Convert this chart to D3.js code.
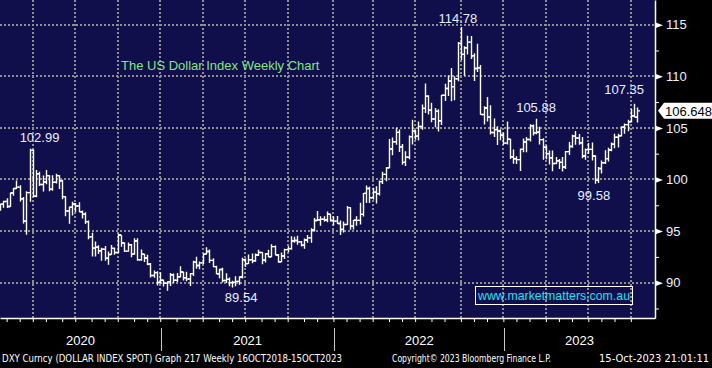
<!DOCTYPE html>
<html><head><meta charset="utf-8">
<script src="https://cdn.jsdelivr.net/npm/d3@7"></script>
<style>html,body{margin:0;padding:0;background:#000;} svg{display:block;}</style>
</head><body><svg id="c" width="712" height="368"></svg>
<script>
// ---- DATA: DXY weekly bars, first bar = week ending 2020-01-03 ----
const startWeek = "2020-01-03";
const opens = [96.39,96.84,97.36,97.61,97.87,97.39,98.69,99.13,99.26,98.13,95.95,98.73,102.82,98.37,100.55,99.51,99.76,100.37,99.07,99.73,100.37,99.88,98.34,96.94,97.32,97.63,97.43,96.87,96.64,95.92,94.44,93.35,93.44,93.09,93.24,92.37,92.73,93.33,92.93,94.60,93.84,93.06,93.68,92.77,94.04,92.23,92.76,92.39,91.79,90.70,90.98,90.02,90.24,
89.94,90.10,90.77,90.24,90.58,91.04,90.48,90.36,90.88,91.98,91.67,91.92,92.77,93.02,92.16,91.56,90.86,91.28,90.22,90.32,90.01,90.03,90.13,90.55,92.23,91.85,92.23,92.12,92.68,92.92,92.17,92.80,92.52,93.50,92.69,92.03,92.58,93.20,93.30,94.04,94.09,93.96,93.64,94.14,94.34,95.12,96.03,96.09,96.15,96.08,96.64,96.02,
95.97,95.74,95.17,95.64,97.27,95.48,96.05,96.04,96.62,98.65,99.12,98.23,98.78,98.63,99.79,100.50,101.14,102.96,103.66,104.56,103.16,101.66,102.16,104.15,104.69,104.20,105.14,106.89,108.07,106.72,105.86,106.61,105.69,108.16,108.82,109.54,109.00,109.75,113.19,112.12,112.75,113.31,111.98,110.76,110.81,106.29,106.92,106.04,104.55,104.83,104.70,104.31,
103.52,103.90,102.20,102.01,101.92,102.92,103.63,103.87,105.21,104.52,104.58,103.86,103.12,102.51,102.10,101.55,101.82,101.66,101.21,102.70,103.20,104.20,104.02,103.55,102.27,102.89,102.92,102.27,99.91,101.07,101.62,102.02,102.85,103.43,104.09,104.24,105.07,105.32,105.58,106.17,106.04];
const highs = [96.98,97.45,97.68,97.94,98.19,98.75,99.18,99.91,99.43,98.31,98.86,102.99,102.90,100.93,100.74,100.38,100.93,100.42,100.40,100.56,100.40,99.98,98.37,97.39,97.84,97.71,97.80,97.00,96.83,96.02,94.85,93.99,93.64,93.38,93.55,93.03,93.66,93.40,94.74,94.60,93.91,93.90,93.74,94.31,94.30,93.21,92.80,92.70,91.92,91.19,91.10,91.02,90.30,
90.12,90.95,90.90,90.95,91.60,91.05,91.05,90.94,92.13,92.51,92.05,92.84,93.44,93.21,92.38,91.65,91.36,91.44,90.91,90.51,90.18,90.63,90.62,92.41,92.35,92.74,92.84,92.83,93.19,92.94,92.88,93.20,93.73,93.60,92.77,92.93,93.29,93.52,94.50,94.45,94.56,94.04,94.29,94.63,95.27,96.26,96.94,96.45,96.45,96.91,96.68,96.44,
96.46,96.02,95.93,97.44,97.30,96.07,96.43,97.74,98.69,99.42,99.30,99.21,99.35,99.90,100.76,101.18,103.93,104.07,105.01,104.85,103.43,102.74,104.25,105.79,104.80,105.63,107.27,109.29,108.16,107.43,106.93,106.80,108.19,109.27,110.08,110.79,110.00,113.33,114.78,112.90,113.92,113.89,112.22,113.15,111.10,107.10,107.99,107.20,105.91,105.15,104.87,104.56,
105.63,103.95,102.90,102.26,103.01,103.96,104.12,105.36,105.32,105.88,105.11,103.99,103.30,102.81,102.80,102.17,101.99,102.19,102.75,103.62,104.34,104.70,104.40,104.12,103.00,103.54,103.58,102.34,101.20,101.84,102.84,103.07,103.59,104.44,104.43,105.16,105.43,105.78,106.84,107.35,106.98];
const lows = [96.36,96.64,96.96,97.26,97.24,97.36,98.42,99.07,97.87,95.73,94.65,97.84,98.27,98.27,99.37,98.83,99.54,98.86,98.91,99.60,99.09,98.09,96.44,95.71,96.50,96.85,96.83,96.23,95.69,94.20,92.55,92.53,92.79,92.13,92.13,91.75,92.70,92.70,92.87,93.49,92.98,93.00,92.47,92.70,92.13,92.13,92.01,91.69,90.50,90.47,89.72,89.90,89.62,
89.21,89.69,89.97,90.06,90.51,90.21,90.13,89.68,90.66,91.36,91.30,91.80,92.73,91.92,91.49,90.81,90.42,90.03,89.96,89.65,89.53,89.66,89.81,90.41,91.51,91.82,91.88,92.02,92.58,91.78,91.95,92.46,92.47,92.67,91.94,91.98,92.29,92.98,93.19,93.87,93.68,93.50,93.28,93.87,93.87,94.95,95.99,95.52,95.91,95.85,95.94,95.53,
95.70,94.63,94.87,95.58,95.14,95.16,95.51,95.65,96.42,97.71,97.71,98.06,97.68,98.44,99.57,99.82,101.09,102.35,103.36,102.66,101.43,101.30,101.96,103.40,103.86,103.78,104.83,106.44,106.29,105.54,105.05,104.64,105.29,107.60,108.10,107.59,107.68,109.52,111.57,110.05,112.12,111.67,109.54,110.42,106.28,105.32,105.62,104.37,104.12,103.33,103.80,103.37,
103.39,101.99,101.53,101.50,100.82,102.64,102.64,103.68,104.25,104.38,103.40,101.92,101.95,101.45,100.79,101.51,101.01,100.78,101.01,102.38,103.08,103.37,103.36,102.05,101.92,102.47,101.84,99.58,99.65,100.57,101.50,101.74,102.74,103.03,103.10,104.17,104.43,104.67,105.51,106.03,105.53];
const closes = [96.84,97.36,97.61,97.87,97.39,98.69,99.13,99.26,98.13,95.95,98.73,102.82,98.37,100.55,99.51,99.76,100.37,99.07,99.73,100.37,99.88,98.34,96.94,97.32,97.63,97.43,96.87,96.64,95.92,94.44,93.35,93.44,93.09,93.24,92.37,92.73,93.33,92.93,94.64,93.84,93.06,93.68,92.77,94.04,92.23,92.76,92.39,91.79,90.70,90.98,90.02,90.24,89.94,
90.10,90.77,90.24,90.58,91.04,90.48,90.36,90.88,91.98,91.67,91.92,92.77,93.02,92.16,91.56,90.86,91.28,90.22,90.32,90.01,90.03,90.13,90.55,92.23,91.85,92.23,92.12,92.68,92.92,92.17,92.80,92.52,93.50,92.69,92.03,92.58,93.20,93.30,94.04,94.09,93.96,93.64,94.14,94.34,95.12,96.03,96.09,96.15,96.08,96.64,96.02,95.97,
95.74,95.17,95.64,97.27,95.48,96.05,96.04,96.62,98.65,99.12,98.23,98.78,98.63,99.79,100.50,101.14,102.96,103.66,104.56,103.16,101.66,102.16,104.15,104.69,104.20,105.14,106.89,108.07,106.72,105.86,106.61,105.69,108.16,108.82,109.54,109.00,109.75,113.19,112.12,112.75,113.31,111.98,110.76,110.81,106.29,106.92,106.04,104.55,104.83,104.70,104.31,103.52,
103.90,102.20,102.01,101.92,102.92,103.63,103.87,105.21,104.52,104.58,103.86,103.12,102.51,102.10,101.55,101.82,101.66,101.21,102.70,103.20,104.20,104.02,103.55,102.27,102.89,102.92,102.27,99.91,101.07,101.62,102.02,102.85,103.43,104.09,104.24,105.07,105.32,105.58,106.17,106.04,106.648];

const yTicks = [90, 95, 100, 105, 110, 115];
const yMinor = [87.5, 92.5, 97.5, 102.5, 107.5, 112.5, 117.5];
const yearLabels = ["2020", "2021", "2022", "2023"];
const annoDates = ["2020-03-20", "2021-05-28", "2022-09-30", "2023-03-10", "2023-07-14", "2023-10-06"];
const annoValues = [102.99, 89.54, 114.78, 105.88, 99.58, 107.35];
const titleText = "The US Dollar Index Weekly Chart";
const siteText = "www.marketmatters.com.au";
const footerTexts = ["DXY Curncy (DOLLAR INDEX SPOT) Graph 217  Weekly 16OCT2018-15OCT2023", "Copyright\u00A9 2023 Bloomberg Finance L.P.", "15-Oct-2023 21:01:11"];

// ---- LAYOUT ----
const W = 712, H = 368, plotR = 655, plotB = 318;
const annoOffsets = [[10, -11], [9, 10], [-3, -8], [0, -11], [-1, 12], [-10, -14]];
const msWeek = 7 * 864e5;
const t0 = Date.parse(startWeek);
const idxOf = t => Math.floor((t - t0) / msWeek + 1e-9);

const x = d3.scaleLinear().domain([1.97, 202.4]).range([0, plotR]);
const y = d3.scaleLinear().domain([86.58, 117.39]).range([plotB, 0]);

const svg = d3.select("#c");
svg.append("rect").attr("width", W).attr("height", H).attr("fill", "#000");
svg.append("rect").attr("width", plotR).attr("height", plotB).attr("fill", "#100f4b");
svg.append("clipPath").attr("id", "clip").append("rect").attr("width", plotR).attr("height", plotB);

// month ticks / quarter gridlines / year ends: last weekly bar of each period
const months = d3.utcMonth.range(new Date(Date.UTC(2020, 0, 1)), new Date(Date.UTC(2023, 9, 1)));
const monthEndIdx = months.map(m => ({m: m.getUTCMonth(), i: idxOf(+d3.utcDay.offset(d3.utcMonth.offset(m, 1), -1))}));
const quarterIdx = monthEndIdx.filter(d => d.m % 3 === 2).map(d => d.i);
const yearEndIdx = monthEndIdx.filter(d => d.m === 11).map(d => d.i);

const grid = svg.append("g").attr("stroke", "#8e8e8e").attr("stroke-width", 2).attr("stroke-dasharray", "2,2");
yTicks.forEach(v => {
  const yy = Math.round(y(v));
  grid.append("line").attr("x1", 0).attr("x2", plotR).attr("y1", yy).attr("y2", yy);
});
quarterIdx.forEach(i => {
  const xx = Math.round(x(i));
  grid.append("line").attr("x1", xx).attr("x2", xx).attr("y1", 0).attr("y2", plotB);
});

// OHLC bars
const bars = svg.append("g").attr("clip-path", "url(#clip)").attr("stroke", "#fff").attr("stroke-width", 1.4).attr("fill", "none");
closes.forEach((c, i) => {
  const xx = Math.round(x(i)) + 0.5;
  bars.append("path").attr("d",
    `M${xx},${y(highs[i])}V${y(lows[i])}M${xx - 2.5},${y(opens[i])}H${xx}M${xx},${y(c)}H${xx + 2.5}`);
});

// right axis
const ax = svg.append("g").attr("transform", `translate(${plotR},0)`)
  .call(d3.axisRight(y).tickValues(yTicks).tickSize(0).tickSizeOuter(0).tickPadding(11));
ax.select(".domain").attr("stroke", "#fff").attr("stroke-width", 1.5);
ax.selectAll(".tick text").attr("fill", "#eef2ff").attr("font-family", "Liberation Sans, Arial, sans-serif").attr("font-size", 13);
ax.selectAll(".tick").append("path").attr("d", "M0,-3L8,0L0,3Z").attr("fill", "#fff");
const axm = svg.append("g").attr("transform", `translate(${plotR},0)`)
  .call(d3.axisRight(y).tickValues(yMinor).tickSize(4).tickSizeOuter(0).tickFormat(""));
axm.select(".domain").remove();
axm.selectAll(".tick line").attr("stroke", "#fff");

// bottom axis
const bx = svg.append("g").attr("transform", `translate(0,${plotB})`)
  .call(d3.axisBottom(x).tickValues(monthEndIdx.map(d => d.i)).tickSize(4).tickSizeOuter(0).tickFormat(""));
bx.select(".domain").attr("stroke", "#fff").attr("stroke-width", 1.5);
bx.selectAll(".tick line").attr("stroke", "#fff");

// year separators and labels
const sepX = yearEndIdx.map(i => x(i) + 0.8);
sepX.forEach(sx => svg.append("line").attr("x1", Math.round(sx) + 0.5).attr("x2", Math.round(sx) + 0.5)
  .attr("y1", 328).attr("y2", 351).attr("stroke", "#c8c8c8").attr("stroke-width", 1));
const bounds = [0, ...sepX, plotR];
yearLabels.forEach((t, k) => {
  svg.append("text").attr("x", (bounds[k] + bounds[k + 1]) / 2).attr("y", 345)
    .attr("text-anchor", "middle").attr("fill", "#fff")
    .attr("font-family", "Liberation Sans, Arial, sans-serif").attr("font-size", 13).text(t);
});

// annotations
annoValues.forEach((v, k) => {
  const i = idxOf(Date.parse(annoDates[k]));
  svg.append("text").attr("x", x(i) + annoOffsets[k][0]).attr("y", y(v) + annoOffsets[k][1])
    .attr("dy", "0.35em").attr("text-anchor", "middle").attr("fill", "#e8eeff")
    .attr("font-family", "Liberation Sans, Arial, sans-serif").attr("font-size", 13).text(v.toFixed(2));
});

// title
svg.append("text").attr("x", 121).attr("y", 70).attr("fill", "#80e680")
  .attr("font-family", "Liberation Sans, Arial, sans-serif").attr("font-size", 13).text(titleText);

// website box
svg.append("rect").attr("x", 475.5).attr("y", 286.5).attr("width", 157).attr("height", 18)
  .attr("fill", "none").attr("stroke", "#fff").attr("stroke-width", 1);
svg.append("text").attr("x", 554).attr("y", 300).attr("text-anchor", "middle").attr("fill", "#1ee3ef")
  .attr("font-family", "Liberation Sans, Arial, sans-serif").attr("font-size", 13)
  .attr("textLength", 152).attr("lengthAdjust", "spacingAndGlyphs").text(siteText);

// last price flag
const last = closes[closes.length - 1];
const ly = y(last);
svg.append("path").attr("d", `M658,${ly}L664,${ly - 8}H712V${ly + 8}H664Z`).attr("fill", "#fff");
svg.append("text").attr("x", 665).attr("y", ly).attr("dy", "0.36em").attr("fill", "#000")
  .attr("font-family", "Liberation Sans, Arial, sans-serif").attr("font-size", 13).text(last.toFixed(3));

// footer
const footFont = "Liberation Sans Narrow, DejaVu Sans Condensed, Arial, sans-serif";
svg.append("text").attr("x", 2).attr("y", 362).attr("fill", "#fff")
  .attr("font-family", footFont).attr("font-size", 11)
  .attr("textLength", 340).attr("lengthAdjust", "spacingAndGlyphs").text(footerTexts[0]);
svg.append("text").attr("x", 392).attr("y", 362).attr("fill", "#fff")
  .attr("font-family", footFont).attr("font-size", 11)
  .attr("textLength", 159).attr("lengthAdjust", "spacingAndGlyphs").text(footerTexts[1]);
svg.append("text").attr("x", 709).attr("y", 362).attr("fill", "#fff").attr("text-anchor", "end")
  .attr("font-family", footFont).attr("font-size", 11).text(footerTexts[2]);
</script></body></html>
